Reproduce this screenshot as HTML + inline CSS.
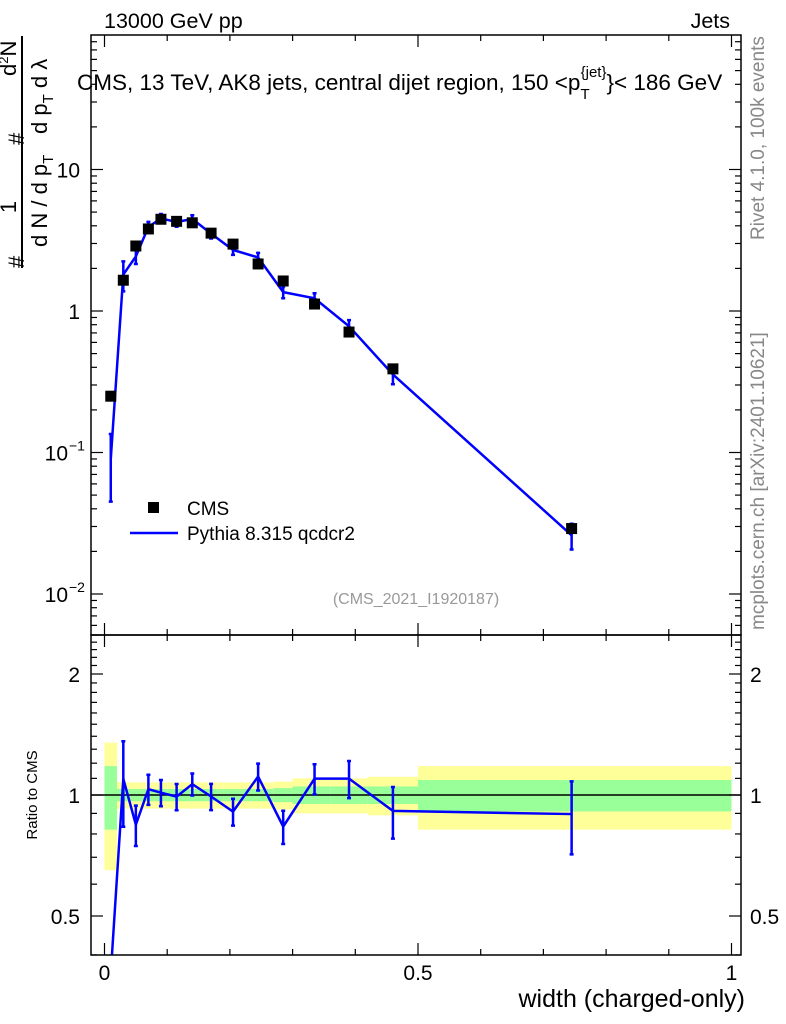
<!DOCTYPE html>
<html><head><meta charset="utf-8"><style>
html,body{margin:0;padding:0;background:#fff;width:786px;height:1024px;overflow:hidden;}
svg{display:block;font-family:"Liberation Sans",sans-serif;}
</style></head><body>
<svg id="chart" width="786" height="1024" viewBox="0 0 786 1024" xmlns="http://www.w3.org/2000/svg">
<g id="bands"></g>
<g id="marks"></g>
<g id="axes"></g>
<text x="104" y="28" font-size="21.5">13000 GeV pp</text>
<text x="730" y="28" font-size="21.5" text-anchor="end">Jets</text>
<text x="77" y="90" font-size="22.5">CMS, 13 TeV, AK8 jets, central dijet region, 150 &lt;p<tspan font-size="15" dy="9">T</tspan><tspan font-size="15" dy="-22" dx="-9">{jet}</tspan><tspan dy="13">}&lt; 186 GeV</tspan></text>
<text x="416" y="604" font-size="16" fill="#999" text-anchor="middle">(CMS_2021_I1920187)</text>
<text transform="translate(764,240) rotate(-90)" font-size="19" fill="#888">Rivet 4.1.0,  100k events</text>
<text transform="translate(764,630) rotate(-90)" font-size="19" fill="#888">mcplots.cern.ch [arXiv:2401.10621]</text>
<g font-size="22">
<line x1="22" y1="36" x2="22" y2="268" stroke="#000" stroke-width="2"/>
<text transform="translate(24,268) rotate(-90)" text-anchor="start">#</text>
<text transform="translate(16,207) rotate(-90)" text-anchor="middle">1</text>
<text transform="translate(47,247) rotate(-90)">d N / d p<tspan font-size="15" dy="6">T</tspan></text>
<text transform="translate(24,145) rotate(-90)">#</text>
<text transform="translate(16,76) rotate(-90)">d<tspan font-size="13" dy="-8">2</tspan><tspan dy="8">N</tspan></text>
<text transform="translate(47,134) rotate(-90)">d p<tspan font-size="15" dy="6">T</tspan><tspan dy="-6"> d λ</tspan></text>
</g>
<text transform="translate(37,795) rotate(-90)" font-size="15" text-anchor="middle">Ratio to CMS</text>
<text x="745" y="1007" font-size="25" text-anchor="end">width (charged-only)</text>
<g>
<rect x="148" y="502" width="11" height="11" fill="#000"/>
<text x="187" y="515" font-size="19">CMS</text>
<line x1="130" y1="533" x2="178" y2="533" stroke="#00f" stroke-width="2.5"/>
<text x="187" y="540" font-size="19">Pythia 8.315 qcdcr2</text>
</g>
</svg>
<script>
const xCenters=[0.01,0.03,0.05,0.07,0.09,0.115,0.14,0.17,0.205,0.245,0.285,0.335,0.39,0.46,0.745];
const binEdges=[0,0.02,0.04,0.06,0.08,0.1,0.13,0.15,0.19,0.22,0.27,0.3,0.36,0.42,0.5,1.0];
const cmsValues=[0.25,1.65,2.88,3.8,4.45,4.3,4.2,3.55,2.97,2.15,1.63,1.12,0.71,0.39,0.029];
const mcValues=[0.09,1.81,2.43,3.93,4.51,4.26,4.47,3.52,2.70,2.39,1.36,1.23,0.78,0.356,0.026];
const mcRelErr=[0.5,0.24,0.115,0.086,0.075,0.075,0.063,0.075,0.077,0.077,0.095,0.086,0.106,0.147,0.206];
const greenBand=[0.18,0.035,0.035,0.035,0.035,0.035,0.035,0.035,0.035,0.035,0.04,0.05,0.05,0.05,0.09];
const yellowBand=[0.35,0.075,0.075,0.075,0.075,0.075,0.075,0.075,0.075,0.075,0.08,0.1,0.1,0.11,0.18];
const xTickLabels=["0","0.5","1"];
const xTickValues=[0,0.5,1];

const NS="http://www.w3.org/2000/svg";
const L=91,Rt=741,T=35,MB=635,RB=955;
const X=v=>104.5+627*v;
const Y=v=>311-141.5*Math.log10(v);
const RY=r=>795-121*Math.log2(r);
function mk(tag,attrs,parent){const e=document.createElementNS(NS,tag);for(const k in attrs)e.setAttribute(k,attrs[k]);parent.appendChild(e);return e;}
const bands=document.getElementById('bands'),marks=document.getElementById('marks'),axes=document.getElementById('axes');

for(let i=0;i<binEdges.length-1;i++){
  const x0=X(binEdges[i]),x1=X(binEdges[i+1]);
  const yb=mk('rect',{x:x0,y:RY(1+yellowBand[i]),width:x1-x0,height:RY(1-yellowBand[i])-RY(1+yellowBand[i]),fill:'#ffff99'},bands);
  
  
  const gb=mk('rect',{x:x0,y:RY(1+greenBand[i]),width:x1-x0,height:RY(1-greenBand[i])-RY(1+greenBand[i]),fill:'#99ff99'},bands);
  
  
}
const one=mk('line',{x1:L,x2:Rt,y1:RY(1),y2:RY(1),stroke:'#000','stroke-width':1.5},bands);



const defs=mk('defs',{},marks);
const c1=mk('clipPath',{id:'cmain'},defs);mk('rect',{x:L,y:T,width:Rt-L,height:MB-T},c1);
const c2=mk('clipPath',{id:'cratio'},defs);mk('rect',{x:L,y:MB,width:Rt-L,height:RB-MB},c2);
const gm=mk('g',{'clip-path':'url(#cmain)'},marks);
const gr=mk('g',{'clip-path':'url(#cratio)'},marks);

let d='';xCenters.forEach((x,i)=>{d+=(i?'L':'M')+X(x)+','+Y(mcValues[i]);});
const ml=mk('path',{d:d,fill:'none',stroke:'#00f','stroke-width':2.5},gm);


xCenters.forEach((x,i)=>{
  const v=mcValues[i],e=mcRelErr[i];
  const y1=Y(v*(1+e)),y2=Y(Math.max(v*(1-e),1e-4));
  const eb=mk('path',{d:`M${X(x)},${y1}L${X(x)},${y2}M${X(x)-2},${y1}h4M${X(x)-2},${y2}h4`,stroke:'#00f','stroke-width':2.5,fill:'none'},gm);
  
  
});
xCenters.forEach((x,i)=>{
  const r=mk('rect',{x:X(x)-5.5,y:Y(cmsValues[i])-5.5,width:11,height:11,fill:'#000'},gm);
  
  
});

d='';xCenters.forEach((x,i)=>{d+=(i?'L':'M')+X(x)+','+RY(mcValues[i]/cmsValues[i]);});
const rl=mk('path',{d:d,fill:'none',stroke:'#00f','stroke-width':2.5},gr);


xCenters.forEach((x,i)=>{
  const r=mcValues[i]/cmsValues[i],e=mcRelErr[i];
  if(RY(r)>RB)return;
  const yt=RY(r*(1+e)),yb=RY(Math.max(r*(1-e),0.01));
  const eb=mk('path',{d:`M${X(x)},${yt}L${X(x)},${yb}M${X(x)-2},${yt}h4M${X(x)-2},${yb}h4`,stroke:'#00f','stroke-width':2.5,fill:'none'},gr);
  
  
});

const f1=mk('rect',{x:L,y:T,width:Rt-L,height:MB-T,fill:'none',stroke:'#000','stroke-width':1.5},axes);


const f2=mk('rect',{x:L,y:MB,width:Rt-L,height:RB-MB,fill:'none',stroke:'#000','stroke-width':1.5},axes);


function tk(x1,y1,x2,y2){const l=mk('line',{x1:x1,y1:y1,x2:x2,y2:y2,stroke:'#000','stroke-width':1.2},axes);

}
for(let k=0;k<=10;k++){
  const v=k/10,x=X(v),len=(k%5===0)?12:6;
  [MB,RB].forEach(b=>tk(x,b,x,b-len));
  [T,MB].forEach(t=>tk(x,t,x,t+len));
}
xTickValues.forEach((v,i)=>{
  const t=mk('text',{x:X(v),y:980,'font-size':21,'text-anchor':'middle'},axes);t.textContent=xTickLabels[i];
  
  
});
for(let e=-3;e<=1;e++){for(let m=1;m<=9;m++){
  const v=m*Math.pow(10,e),y=Y(v);if(y<T||y>MB)continue;
  const len=m===1?12:6;tk(L,y,L+len,y);tk(Rt,y,Rt-len,y);
}}
[[10,'10'],[1,'1'],[0.1,'10'],[0.01,'10']].forEach(([v,s],i)=>{
  const t=mk('text',{x:i>=2?68:80,y:Y(v)+8,'font-size':21,'text-anchor':'end'},axes);t.textContent=s;
  
  
  if(i>=2){const s2=mk('text',{x:69,y:Y(v)-2,'font-size':14},axes);s2.textContent=i===2?'−1':'−2';
  
  }
});
for(let k=4;k<=25;k++){
  const r=k/10,y=RY(r);if(y<MB||y>RB)continue;
  const len=(k===5||k===10||k===20)?12:6;tk(L,y,L+len,y);tk(Rt,y,Rt-len,y);
}
[[2,'2'],[1,'1'],[0.5,'0.5']].forEach(([r,s])=>{
  const t=mk('text',{x:80,y:RY(r)+8,'font-size':21,'text-anchor':'end'},axes);t.textContent=s;
  
  
  const t2=mk('text',{x:750,y:RY(r)+8,'font-size':21},axes);t2.textContent=s;
  
  
});
</script>
</body></html>
